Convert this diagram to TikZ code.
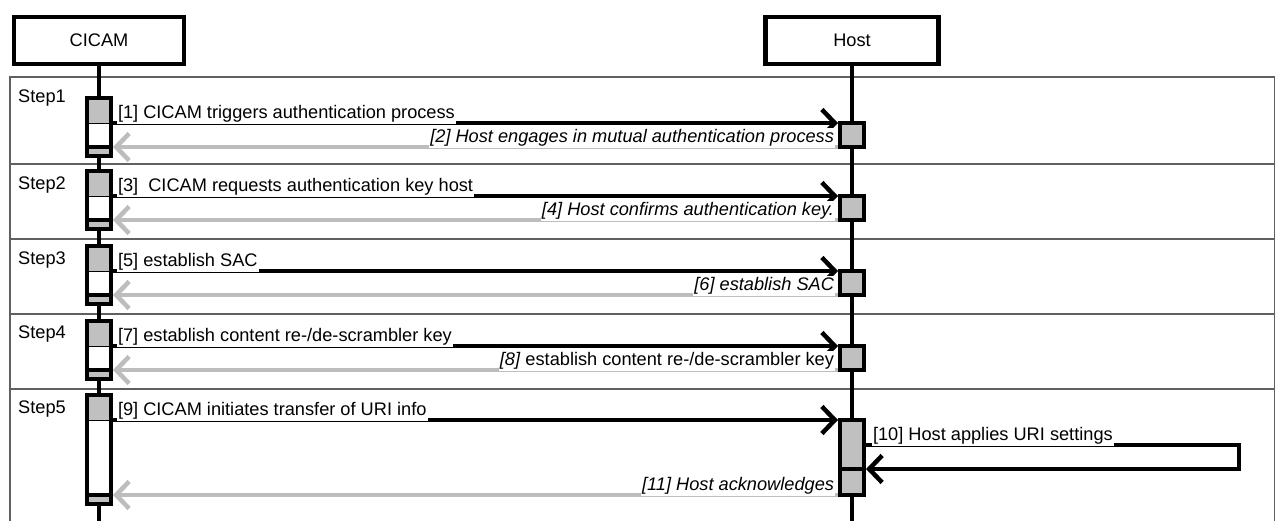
\documentclass[tikz,border=0pt]{standalone}
\usepackage{fontspec}
\setmainfont{Liberation Sans}
\usetikzlibrary{arrows.meta}
\definecolor{actgray}{HTML}{C0C0C0}
\definecolor{retgray}{HTML}{BDBDBD}
\definecolor{framegray}{HTML}{606060}
\newcommand{\diafs}{\fontsize{18.2}{21.5}\selectfont}
\begin{document}
\begin{tikzpicture}[x=1pt,y=-1pt,
  font=\diafs,
  hdr/.style={draw, line width=4.5pt, minimum height=47pt, inner sep=0pt, outer sep=0pt, font=\diafs},
  life/.style={line width=4pt},
  framel/.style={draw=framegray, line width=1.2pt},
  steplbl/.style={anchor=base west, inner sep=0pt, font=\diafs},
  cact/.style={draw, line width=4.5pt, fill=white, minimum width=24pt, inner sep=0pt, outer sep=0pt, anchor=north,
    path picture={
      \fill[actgray] (path picture bounding box.north west) rectangle ([yshift=-25pt]path picture bounding box.north east);
      \draw[line width=1pt] ([yshift=-25pt]path picture bounding box.north west) -- ([yshift=-25pt]path picture bounding box.north east);
      \fill[actgray] (path picture bounding box.south west) rectangle ([yshift=9pt]path picture bounding box.south east);
      \draw[line width=4.5pt] ([yshift=9pt]path picture bounding box.south west) -- ([yshift=9pt]path picture bounding box.south east);
    }},
  hact/.style={draw, line width=4.5pt, fill=actgray, minimum width=24pt, inner sep=0pt, outer sep=0pt, anchor=north},
  hactsplit/.style={hact,
    path picture={
      \draw[line width=4.5pt] ([yshift=-49pt]path picture bounding box.north west) -- ([yshift=-49pt]path picture bounding box.north east);
    }},
  msg/.style={line width=4.5pt, -{Straight Barb[length=13pt,width=27pt]}, shorten >=2pt},
  ret/.style={draw=retgray, line width=4.5pt, -{Straight Barb[length=13pt,width=27pt]}, shorten >=2pt, shorten <=2pt},
  lbl/.style={fill=white, inner xsep=1pt, inner ysep=1.5pt, outer sep=0pt, font=\diafs},
  ilbl/.style={lbl, font=\diafs\itshape}
]
\useasboundingbox (0,0) rectangle (1276,520);
\clip (0,0) rectangle (1276,520);
\fill[white] (0,0) rectangle (1276,520);

% frame and step separators
\draw[framel] (10,77) rectangle (1274.5,560);
\foreach \yy in {164,239,314,389} \draw[framel] (10,\yy) -- (1274.5,\yy);

% step labels
\node[steplbl] (st1) at (18,102) {Step1};
\node[steplbl] (st2) at (18,189) {Step2};
\node[steplbl] (st3) at (18,264) {Step3};
\node[steplbl] (st4) at (18,338) {Step4};
\node[steplbl] (st5) at (18,413) {Step5};

% headers and lifelines
\node[hdr, minimum width=170pt] (cicam) at (99,40.5) {CICAM};
\node[hdr, minimum width=173pt] (host) at (852,40.5) {Host};
\coordinate (cicamEnd) at (99,540);
\coordinate (hostEnd) at (852,540);
\draw[life] (cicam.south) -- (cicamEnd);
\draw[life] (host.south) -- (hostEnd);

% CICAM activations
\node[cact, minimum height=58pt] (ca1) at (99,98) {};
\node[cact, minimum height=58pt] (ca2) at (99,171) {};
\node[cact, minimum height=58pt] (ca3) at (99,246) {};
\node[cact, minimum height=58pt] (ca4) at (99,321) {};
\node[cact, minimum height=109pt] (ca5) at (99,395) {};

% Host activations
\node[hact, minimum height=24pt] (ha1) at (852,123) {};
\node[hact, minimum height=24pt] (ha2) at (852,196) {};
\node[hact, minimum height=24pt] (ha3) at (852,271) {};
\node[hact, minimum height=24pt] (ha4) at (852,346) {};
\node[hactsplit, minimum height=75pt] (ha5) at (852,420) {};

% message anchor points on CICAM activations
\foreach \i in {1,...,5} {
  \coordinate (m\i) at ([yshift=-25pt]ca\i.north east);
  \coordinate (r\i) at ([yshift=9pt]ca\i.south east);
}
\coordinate (s10a) at ([yshift=-25pt]ha5.north east);
\coordinate (s10b) at ([yshift=-49pt]ha5.north east);

% messages
\draw[msg] (m1) -- (ha1.north west);
\draw[ret] (ha1.south west) -- (r1);
\draw[msg] (m2) -- (ha2.north west);
\draw[ret] (ha2.south west) -- (r2);
\draw[msg] (m3) -- (ha3.north west);
\draw[ret] (ha3.south west) -- (r3);
\draw[msg] (m4) -- (ha4.north west);
\draw[ret] (ha4.south west) -- (r4);
\draw[msg] (m5) -- (ha5.north west);
\draw[msg] (s10a) -- ++(375,0) |- (s10b);
\draw[ret] (ha5.south west) -- (r5);

% labels
\node[lbl, anchor=south west, xshift=6pt, yshift=-1pt] (l1) at (m1) {[1] CICAM triggers authentication process};
\node[ilbl, anchor=south east, xshift=-5pt, yshift=-1pt] (l2) at (ha1.south west) {[2] Host engages in mutual authentication process};
\node[lbl, anchor=south west, xshift=6pt, yshift=-1pt] (l3) at (m2) {[3]\ \ CICAM requests authentication key host};
\node[ilbl, anchor=south east, xshift=-5pt, yshift=-1pt] (l4) at (ha2.south west) {[4] Host confirms authentication key.};
\node[lbl, anchor=south west, xshift=6pt, yshift=-1pt] (l5) at (m3) {[5] establish SAC};
\node[ilbl, anchor=south east, xshift=-5pt, yshift=-1pt] (l6) at (ha3.south west) {[6] establish SAC};
\node[lbl, anchor=south west, xshift=6pt, yshift=-1pt] (l7) at (m4) {[7] establish content re-/de-scrambler key};
\node[lbl, anchor=south east, xshift=-5pt, yshift=-1pt] (l8) at (ha4.south west) {\textit{[8]} establish content re-/de-scrambler key};
\node[lbl, anchor=south west, xshift=6pt, yshift=-1pt] (l9) at (m5) {[9] CICAM initiates transfer of URI info};
\node[lbl, anchor=south west, xshift=8pt, yshift=-1pt] (l10) at (s10a) {[10] Host applies URI settings};
\node[ilbl, anchor=south east, xshift=-5pt, yshift=-1pt] (l11) at (ha5.south west) {[11] Host acknowledges};
\end{tikzpicture}
\end{document}
